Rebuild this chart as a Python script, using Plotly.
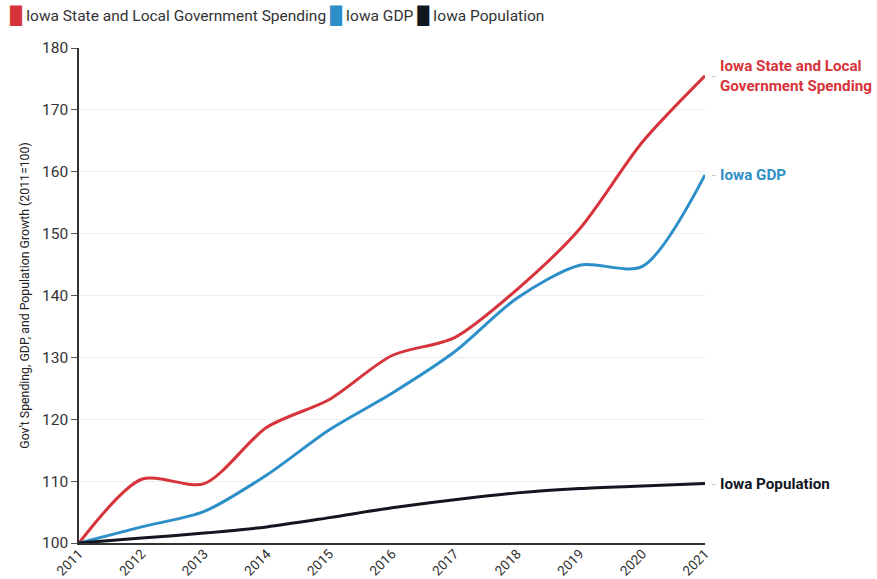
import plotly.graph_objects as go

years = [2011, 2012, 2013, 2014, 2015, 2016, 2017, 2018, 2019, 2020, 2021]
spending = [100, 110.3, 109.6, 118.7, 123.2, 130.3, 133.2, 141.0, 150.8, 164.8, 175.5]
gdp = [100, 102.6, 105.1, 111.0, 118.3, 124.2, 130.9, 139.6, 144.9, 144.7, 159.5]
population = [100, 100.8, 101.6, 102.6, 104.1, 105.7, 107.0, 108.1, 108.8, 109.2, 109.6]

names = ["Iowa State and Local Government Spending", "Iowa GDP", "Iowa Population"]
colors = ["#d7333b", "#2d8fc8", "#12171f"]
series = [spending, gdp, population]
end_labels = ["Iowa State and Local<br>Government Spending", "Iowa GDP", "Iowa Population"]

FONT = "Roboto"
fig = go.Figure()
for name, col, vals in zip(names, colors, series):
    fig.add_trace(go.Scatter(x=years, y=vals, mode="lines", name=name,
                             line=dict(color=col, width=3, shape="spline", smoothing=0.8),
                             showlegend=False))

# legend row (text with coloured block glyphs)
legend_text = "&nbsp;".join(
    "<span style='color:%s;font-size:17px'>&#9608;</span><span style='color:#333'>&nbsp;%s</span>" % (c, n)
    for n, c in zip(names, colors))
fig.add_annotation(x=-0.1134, xref="paper", y=1.0646, yref="paper", xanchor="left",
                   yanchor="middle", showarrow=False, text=legend_text,
                   font=dict(family=FONT, size=15.5, color="#333"))

# end labels
for lab, col, vals in zip(end_labels, colors, series):
    fig.add_annotation(x=1, xref="paper", y=vals[-1], yref="y", xanchor="left",
                       yanchor="middle", showarrow=False, xshift=5, text="-",
                       font=dict(family=FONT, size=12, color="#bbbbbb"))
    fig.add_annotation(x=1, xref="paper", y=vals[-1], yref="y", xanchor="left",
                       yanchor="middle", showarrow=False, xshift=13, align="left",
                       text="<b>" + lab + "</b>",
                       font=dict(family=FONT, size=15.2, color=col))

fig.update_layout(
    width=877, height=579,
    margin=dict(l=79, r=172, t=48, b=36, autoexpand=False),
    paper_bgcolor="white", plot_bgcolor="white",
    font=dict(family=FONT, size=13, color="#222"),
    showlegend=False,
    xaxis=dict(range=[2011, 2021], tickvals=years, ticktext=[str(y) for y in years],
               tickangle=-45, showgrid=False, showline=True, linecolor="#333",
               linewidth=1.5, ticks="", zeroline=False, ticklabelstandoff=-4,
               tickfont=dict(family=FONT, size=13.5, color="#333")),
    yaxis=dict(range=[100, 180], tickvals=list(range(100, 181, 10)),
               showgrid=True, gridcolor="#eeeeee", showline=True, linecolor="#333",
               linewidth=1.5, ticks="outside", ticklen=6, tickcolor="#555",
               zeroline=False,
               title=dict(text="Gov't Spending, GDP, and Population Growth (2011=100)",
                          font=dict(family=FONT, size=12.3, color="#222"), standoff=10),
               tickfont=dict(family=FONT, size=15.5, color="#333")),
)

fig.write_html("out.html")
